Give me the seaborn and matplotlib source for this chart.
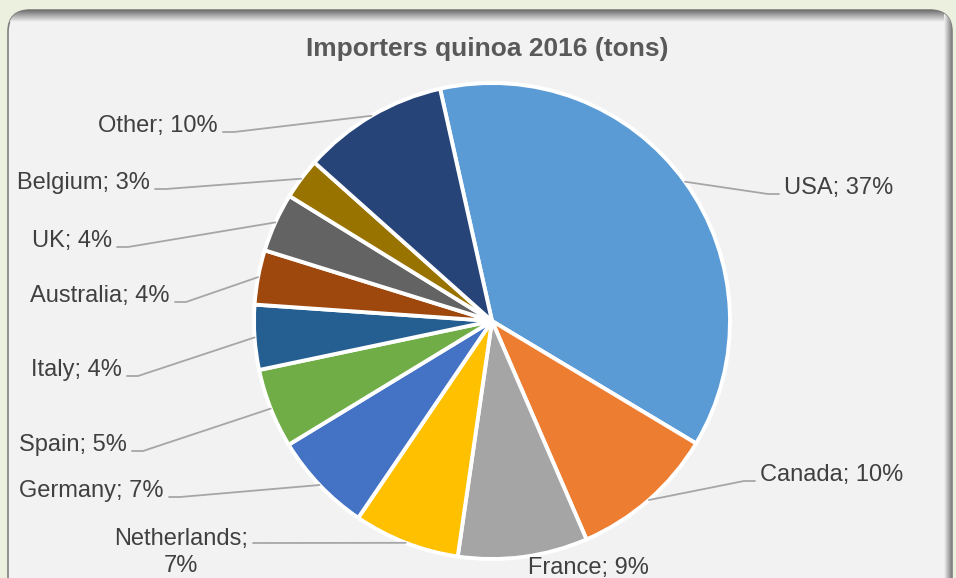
import matplotlib
matplotlib.use("Agg")
import matplotlib.pyplot as plt
from matplotlib.patches import FancyBboxPatch
from matplotlib.colors import LinearSegmentedColormap
import numpy as np
import seaborn as sns

# ---- data ----
countries = ["USA", "Canada", "France", "Netherlands", "Germany", "Spain",
             "Italy", "Australia", "UK", "Belgium", "Other"]
shares = [37.1, 9.9, 8.8, 7.2, 6.8, 5.4, 4.4, 3.7, 4.0, 2.8, 9.9]
label_texts = ["USA; 37%", "Canada; 10%", "France; 9%", "Netherlands;\n7%",
               "Germany; 7%", "Spain; 5%", "Italy; 4%", "Australia; 4%",
               "UK; 4%", "Belgium; 3%", "Other; 10%"]
title = "Importers quinoa 2016 (tons)"

slice_colors = ["#5B9BD5", "#ED7D31", "#A5A5A5", "#FFC000", "#4472C4", "#70AD47",
                "#255E91", "#9E480E", "#636363", "#997300", "#264478"]

# ---- layout (pixel coordinates, y from top) ----
W, H = 956, 578
CX, CY, R = 492, 321, 238
START = 102.6  # degrees, matplotlib convention
# (x, baseline y, side) ; side: 'L' label left of pie, 'R' right, 'C' no leader
label_layout = [(784, 194, "R"), (760, 481, "R"), (588, 574, "C"), (181, 545, "LM"),
                (164, 497, "L"), (127, 451, "L"), (122, 376, "L"), (170, 302, "L"),
                (112, 247, "L"), (150, 189, "L"), (218, 132, "L")]

sns.set_style("white")
plt.rcParams["font.family"] = ["Liberation Sans", "DejaVu Sans"]

fig = plt.figure(figsize=(W / 100, H / 100), dpi=100)
fig.patch.set_facecolor("#EBF1DE")
ax = fig.add_axes([0, 0, 1, 1])


def py(y):
    return H - y


# panel with rounded corners
panel = FancyBboxPatch((8, py(600)), 944, 590, boxstyle="round,pad=0,rounding_size=22",
                       facecolor="#F2F2F2", edgecolor="#7F7F7F", linewidth=1.2, zorder=0)
ax.add_patch(panel)
cmap = LinearSegmentedColormap.from_list("sh", ["#6E6E6E", "#F2F2F2"])
grad = np.linspace(0, 1, 64).reshape(-1, 1)
im = ax.imshow(grad, extent=(8, 952, py(22), py(10)), cmap=cmap, aspect="auto",
               interpolation="bilinear", zorder=0.5)
im.set_clip_path(panel)
grad2 = np.linspace(1, 0, 32).reshape(1, -1)
im2 = ax.imshow(grad2, extent=(944, 953, 0, py(10)), cmap=cmap, aspect="auto",
                interpolation="bilinear", zorder=0.5)
im2.set_clip_path(panel)

palette = sns.color_palette(slice_colors)
wedges, _ = ax.pie(shares, colors=palette, startangle=START, counterclock=False,
                   center=(CX, py(CY)), radius=R, frame=True,
                   wedgeprops=dict(edgecolor="white", linewidth=2.8))
ax.set_xlim(0, W)
ax.set_ylim(0, H)
ax.set_aspect("equal")
ax.axis("off")

ax.text(487, py(56), title, ha="center", va="baseline", fontsize=19,
        fontweight="bold", color="#595959")

line_color = "#A6A6A6"
tcol = "#404040"
for w, txt, (lx, ly, side) in zip(wedges, label_texts, label_layout):
    mid = np.deg2rad((w.theta1 + w.theta2) / 2)
    ax_x = CX + R * np.cos(mid)
    ax_y = py(CY) + R * np.sin(mid)
    if side == "R":
        ax.text(lx, py(ly), txt, ha="left", va="baseline", fontsize=17, color=tcol)
        ax.plot([lx - 5, lx - 16, ax_x], [py(ly), py(ly), ax_y],
                color=line_color, lw=1.3, zorder=3)
    elif side == "L":
        ax.text(lx, py(ly), txt, ha="right", va="baseline", fontsize=17, color=tcol)
        ax.plot([lx + 5, lx + 16, ax_x], [py(ly), py(ly), ax_y],
                color=line_color, lw=1.3, zorder=3)
    elif side == "LM":
        lines = txt.split("\n")
        for i, part in enumerate(lines):
            ax.text(lx, py(ly + 27 * i), part, ha="center", va="baseline",
                    fontsize=17, color=tcol)
        ax.plot([253, 264, ax_x], [py(ly - 2), py(ly - 2), ax_y],
                color=line_color, lw=1.3, zorder=3)
    else:
        ax.text(lx, py(ly), txt, ha="center", va="baseline", fontsize=17, color=tcol)

fig.savefig("out.png", dpi=100, facecolor=fig.get_facecolor())
